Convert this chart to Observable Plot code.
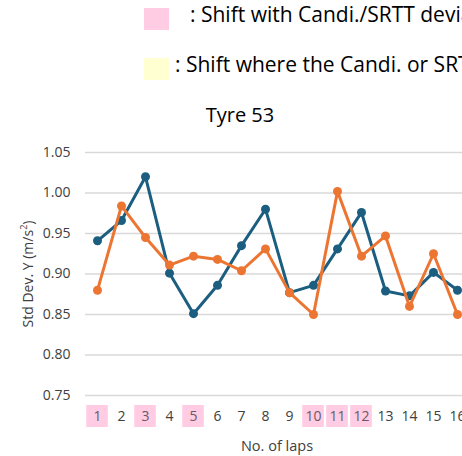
<!DOCTYPE html>
<html>
<head>
<meta charset="utf-8">
<script src="https://cdn.jsdelivr.net/npm/d3@7"></script>
<script src="https://cdn.jsdelivr.net/npm/@observablehq/plot@0.6"></script>
<style>
  html, body { margin: 0; padding: 0; background: #fff; }
  body { width: 462px; height: 456px; overflow: hidden; position: relative; font-family: "Open Sans", sans-serif; color: #404040; }
  .sw { position: absolute; width: 25px; height: 22px; }
  .lt { position: absolute; font-size: 21px; white-space: nowrap; color: #000; line-height: 1; }
  #title { position: absolute; left: 0; width: 480px; text-align: center; top: 105px; font-size: 20px; color: #000; line-height: 1; }
  #chart { position: absolute; left: 0; top: 140px; width: 480px; }
  #ylab { position: absolute; left: 27px; top: 274px; transform: translate(-50%, -50%) rotate(-90deg); font-size: 14px; white-space: nowrap; color: #404040; }
  #xlab { position: absolute; left: 277px; top: 445px; transform: translate(-50%, -50%); font-size: 14.5px; white-space: nowrap; color: #404040; }
</style>
</head>
<body>
<div class="sw" style="left:144px;top:8px;background:#ffcce4"></div>
<div class="lt" style="left:190px;top:4px">: Shift with Candi./SRTT deviation</div>
<div class="sw" style="left:144px;top:58px;background:#ffffd2"></div>
<div class="lt" style="left:175px;top:54px">: Shift where the Candi. or SRTT deviates</div>
<div id="title">Tyre 53</div>
<div id="chart"></div>
<div id="ylab">Std Dev. Y (m/s<sup style="font-size:9px">2</sup>)</div>
<div id="xlab">No. of laps</div>
<script>
const laps = [1, 2, 3, 4, 5, 6, 7, 8, 9, 10, 11, 12, 13, 14, 15, 16];
const blueSeries = [0.941, 0.966, 1.020, 0.901, 0.851, 0.886, 0.935, 0.980, 0.877, 0.886, 0.931, 0.976, 0.879, 0.873, 0.902, 0.880];
const orangeSeries = [0.880, 0.984, 0.945, 0.911, 0.922, 0.918, 0.904, 0.931, 0.877, 0.850, 1.002, 0.922, 0.947, 0.860, 0.925, 0.850];
const yTicks = [0.75, 0.80, 0.85, 0.90, 0.95, 1.00, 1.05];
const highlightedLaps = [1, 3, 5, 10, 11, 12];

const blue = "#1b5e80";
const orange = "#ed7532";

const plot = Plot.plot({
  width: 480,
  height: 316,
  marginLeft: 85,
  marginRight: 11,
  marginTop: 12,
  marginBottom: 61,
  style: { fontFamily: "Open Sans, sans-serif", color: "#404040", background: "transparent", maxWidth: "none" },
  x: { domain: [0.5, 16.5], axis: null },
  y: { domain: [0.75, 1.05], axis: null },
  marks: [
    Plot.gridY(yTicks, { stroke: "#d9d9d9", strokeOpacity: 1, strokeWidth: 1.5 }),
    Plot.axisX(laps, { tickSize: 0, tickPadding: 16, fontSize: 14, label: null, tickFormat: d => String(d) }),
    Plot.axisY(yTicks, { tickSize: 0, tickPadding: 15, fontSize: 14, label: null, tickFormat: d3.format(".2f") }),
    Plot.line(laps, { x: laps, y: blueSeries, stroke: blue, strokeWidth: 3 }),
    Plot.dot(laps, { x: laps, y: blueSeries, fill: blue, r: 4.5 }),
    Plot.line(laps, { x: laps, y: orangeSeries, stroke: orange, strokeWidth: 3 }),
    Plot.dot(laps, { x: laps, y: orangeSeries, fill: orange, r: 4.5 })
  ]
});
plot.style.maxWidth = "none";
plot.setAttribute("width", 480);
plot.setAttribute("height", 316);
document.getElementById("chart").appendChild(plot);

// Pink highlight boxes behind highlighted x tick labels
const sx = plot.scale("x");
const sy = plot.scale("y");
const svg = d3.select(plot);
const yBottom = sy.apply(0.75);
const firstChild = plot.querySelector("g[aria-label='x-axis tick label']") || plot.firstChild;
const gBox = document.createElementNS("http://www.w3.org/2000/svg", "g");
plot.insertBefore(gBox, firstChild);
highlightedLaps.forEach(l => {
  const x1 = sx.apply(l - 0.45), x2 = sx.apply(l + 0.45);
  d3.select(gBox).append("rect")
    .attr("x", x1).attr("width", x2 - x1)
    .attr("y", yBottom + 10).attr("height", 22)
    .attr("fill", "#ffcce4");
});
svg.selectAll("g[aria-label='x-axis tick label'] text").each(function() {
  if (highlightedLaps.includes(+this.textContent)) d3.select(this).attr("fill", "#6a5a63");
});
</script>
</body>
</html>
